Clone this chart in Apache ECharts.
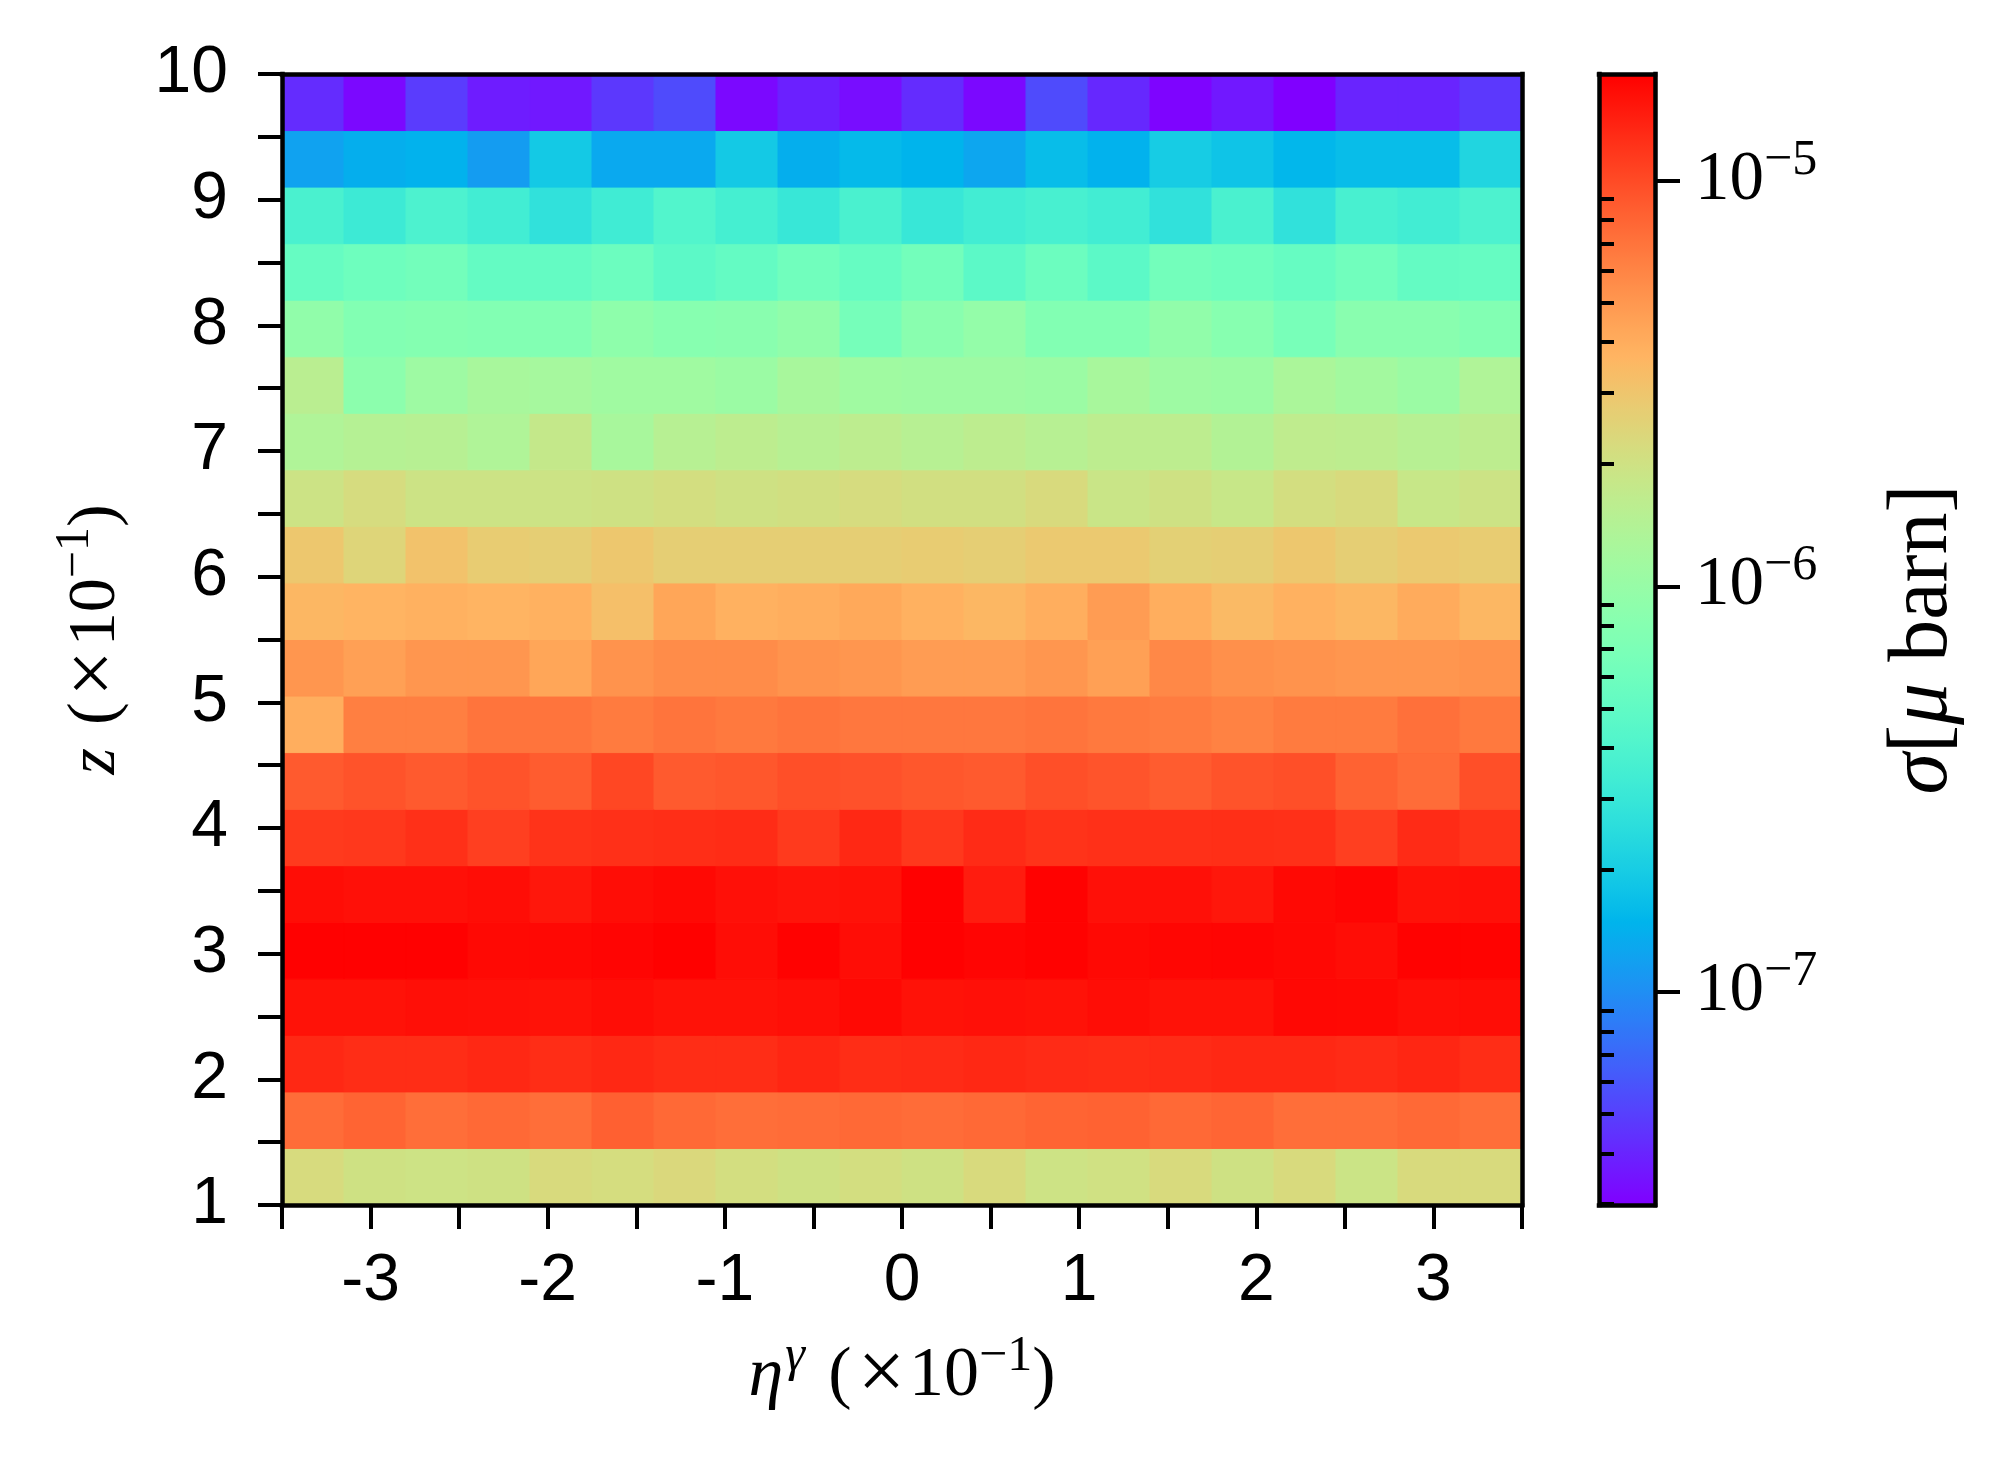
<!DOCTYPE html>
<html>
<head>
<meta charset="utf-8">
<script src="https://cdn.jsdelivr.net/npm/echarts@6/dist/echarts.min.js"></script>
<style>
html,body{margin:0;padding:0;background:#fff;}
#chart{width:2005px;height:1468px;}
</style>
</head>
<body>
<div id="chart"></div>
<script>
// ---- bins ----
const etaEdges = [-3.5,-3.15,-2.8,-2.45,-2.1,-1.75,-1.4,-1.05,-0.7,-0.35,0,0.35,0.7,1.05,1.4,1.75,2.1,2.45,2.8,3.15,3.5];
const zEdges = [1,1.45,1.9,2.35,2.8,3.25,3.7,4.15,4.6,5.05,5.5,5.95,6.4,6.85,7.3,7.75,8.2,8.65,9.1,9.55,10];

// ---- sigma values, in units of 1e-6 micro-barn, one array per z bin (left to right in eta) ----
const sigma_z100 = [2.23,2.00,1.96,2.00,2.27,2.17,2.32,2.13,2.00,2.13,2.00,2.27,1.96,2.03,2.27,2.00,2.27,1.91,2.27,2.27];
const sigma_z145 = [7.46,8.06,7.36,7.71,7.36,8.38,7.71,7.36,7.46,7.71,7.46,7.71,8.06,8.22,7.71,7.96,7.36,7.36,7.71,7.36];
const sigma_z190 = [13.3,12.8,12.8,13.3,12.8,13.3,12.8,12.8,13.5,12.8,13.0,13.3,13.0,12.8,13.0,13.3,13.3,13.0,13.5,12.8];
const sigma_z235 = [15.9,15.9,16.3,16.1,15.9,16.6,15.9,15.9,16.3,17.0,15.9,16.1,15.9,16.6,15.9,15.9,17.2,17.0,16.3,16.6];
const sigma_z280 = [18.1,18.1,18.1,17.0,17.2,17.5,18.2,16.6,18.0,16.6,18.1,17.5,18.0,17.0,17.4,17.5,17.2,16.6,18.0,17.9];
const sigma_z325 = [16.6,16.1,16.1,16.6,15.3,16.6,17.0,16.1,15.6,15.9,18.1,14.6,18.0,16.1,16.1,15.3,17.0,17.5,15.9,16.1];
const sigma_z370 = [11.5,11.7,12.5,11.0,12.2,12.5,12.7,12.9,11.5,13.3,11.7,13.0,12.2,12.5,12.5,12.6,12.5,11.0,13.0,12.1];
const sigma_z415 = [8.75,9.33,8.75,9.33,8.65,10.3,8.75,9.04,9.64,9.46,9.04,8.75,9.64,9.22,8.65,9.33,9.64,8.22,7.46,9.64];
const sigma_z460 = [3.93,6.35,6.35,7.00,7.00,6.56,7.00,6.69,7.00,6.77,6.77,6.77,7.00,6.69,6.48,6.15,6.56,6.56,7.23,6.69];
const sigma_z505 = [5.07,4.61,5.07,5.07,4.33,5.24,5.59,5.59,5.24,5.07,4.76,4.76,5.07,4.61,5.77,5.41,5.24,5.07,5.07,5.24];
const sigma_z550 = [3.56,3.68,3.80,3.68,3.80,3.24,4.33,3.80,3.93,4.19,3.80,3.56,3.93,4.76,3.93,3.45,3.80,3.56,4.06,3.56];
const sigma_z595 = [2.94,2.43,3.13,2.76,2.67,2.94,2.67,2.67,2.67,2.67,2.76,2.67,2.85,2.85,2.59,2.67,2.94,2.67,2.85,2.76];
const sigma_z640 = [1.94,2.20,1.94,1.94,1.94,2.00,2.13,2.00,2.07,2.20,2.07,2.07,2.27,1.88,2.00,1.82,2.13,2.27,1.82,1.94];
const sigma_z685 = [1.36,1.45,1.50,1.36,1.76,1.24,1.50,1.60,1.50,1.60,1.50,1.60,1.50,1.60,1.60,1.41,1.65,1.60,1.50,1.60];
const sigma_z730 = [1.55,0.869,1.09,1.24,1.20,1.12,1.12,1.05,1.24,1.12,1.09,1.09,1.05,1.24,1.09,1.05,1.28,1.16,1.05,1.36];
const sigma_z775 = [0.927,0.764,0.789,0.764,0.764,0.897,0.815,0.841,0.927,0.650,0.841,0.957,0.764,0.764,0.927,0.815,0.671,0.841,0.841,0.764];
const sigma_z820 = [0.537,0.591,0.630,0.520,0.520,0.573,0.472,0.520,0.610,0.537,0.630,0.472,0.573,0.472,0.630,0.591,0.537,0.610,0.520,0.537];
const sigma_z865 = [0.377,0.321,0.389,0.342,0.273,0.331,0.415,0.353,0.301,0.377,0.301,0.342,0.365,0.342,0.273,0.377,0.273,0.365,0.342,0.389];
const sigma_z910 = [0.122,0.139,0.144,0.115,0.192,0.131,0.131,0.192,0.139,0.158,0.149,0.126,0.164,0.144,0.198,0.180,0.153,0.164,0.164,0.225];
const sigma_z955 = [0.0425,0.0318,0.0483,0.0374,0.0362,0.0468,0.0549,0.0318,0.0386,0.0329,0.0425,0.0318,0.0549,0.0411,0.0308,0.0362,0.0299,0.0399,0.0399,0.0468];

// ---- tick labels ----
const etaTickLabels = [-3,-2,-1,0,1,2,3];
const zTickLabels = [1,2,3,4,5,6,7,8,9,10];
const cbarMajorTicks = [1e-7,1e-6,1e-5];
const cbarMinorTicks = [3e-8,4e-8,5e-8,6e-8,7e-8,8e-8,9e-8,
  2e-7,3e-7,4e-7,5e-7,6e-7,7e-7,8e-7,9e-7,
  2e-6,3e-6,4e-6,5e-6,6e-6,7e-6,8e-6,9e-6];
const cbarMin = 2.985e-8, cbarMax = 1.832e-5;

// ---- build ----
const rows = [sigma_z100,sigma_z145,sigma_z190,sigma_z235,sigma_z280,sigma_z325,sigma_z370,sigma_z415,sigma_z460,sigma_z505,
  sigma_z550,sigma_z595,sigma_z640,sigma_z685,sigma_z730,sigma_z775,sigma_z820,sigma_z865,sigma_z910,sigma_z955];
const cells = [];
rows.forEach((row, j) => row.forEach((s, i) => {
  cells.push([etaEdges[i], etaEdges[i+1], zEdges[j], zEdges[j+1], Math.log10(s * 1e-6), s]);
}));
const logMin = Math.log10(cbarMin), logMax = Math.log10(cbarMax);

// matplotlib 'rainbow' colormap
function rainbow(t) {
  const r = Math.min(1, Math.abs(2 * t - 0.5));
  const g = Math.sin(Math.PI * t);
  const b = Math.cos(Math.PI * t / 2);
  const h = v => Math.round(Math.max(0, Math.min(1, v)) * 255);
  return 'rgb(' + h(r) + ',' + h(g) + ',' + h(b) + ')';
}
const NSTOP = 128;
const cmapColors = [], cmapStops = [];
for (let k = 0; k <= NSTOP; k++) {
  const c = rainbow(k / NSTOP);
  cmapColors.push(c);
  cmapStops.push({offset: k / NSTOP, color: c});
}

const SANS = "'Liberation Sans', 'DejaVu Sans', sans-serif";
const SERIF = "'Liberation Serif', 'DejaVu Serif', serif";
const BLACK = '#000';

function lineOnly(extra) {
  return Object.assign({
    type: 'value', z: 10,
    axisLine: {show: true, onZero: false, lineStyle: {color: BLACK, width: 4.5, cap: 'square'}},
    axisTick: {show: false}, axisLabel: {show: false}, splitLine: {show: false}
  }, extra);
}

const chart = echarts.init(document.getElementById('chart'), null, {renderer: 'canvas'});
const option = {
  backgroundColor: '#fff',
  animation: false,
  grid: [
    {left: 282, top: 74, width: 1240, height: 1131, outerBoundsMode: 'none', containLabel: false},
    {left: 1599, top: 74, width: 56, height: 1131, outerBoundsMode: 'none', containLabel: false}
  ],
  xAxis: [
    {
      gridIndex: 0, type: 'value', min: -3.5, max: 3.5, interval: 0.5, position: 'bottom', z: 10,
      axisLine: {show: true, onZero: false, lineStyle: {color: BLACK, width: 4.5, cap: 'square'}},
      axisTick: {show: true, inside: false, length: 24, lineStyle: {color: BLACK, width: 4}},
      axisLabel: {
        margin: 44, fontSize: 66, fontFamily: SANS, color: BLACK,
        formatter: v => etaTickLabels.indexOf(v) >= 0 ? String(v) : ''
      },
      splitLine: {show: false},
      name: '{i|η}{si|γ}{n| (}{x|×}{n|10}{s|−1}{n|)}',
      nameLocation: 'middle', nameGap: 127, nameMoveOverlap: false,
      nameTextStyle: {
        rich: {
          n: {fontFamily: SERIF, fontSize: 70, lineHeight: 90, color: BLACK},
          x: {fontFamily: SERIF, fontSize: 84, lineHeight: 90, color: BLACK, padding: [0, 4, 0, 6]},
          i: {fontFamily: SERIF, fontSize: 70, lineHeight: 90, fontStyle: 'italic', color: BLACK},
          si: {fontFamily: SERIF, fontSize: 50, lineHeight: 54, fontStyle: 'italic', verticalAlign: 'top', color: BLACK, padding: [0, 6, 0, 2]},
          s: {fontFamily: SERIF, fontSize: 50, lineHeight: 54, verticalAlign: 'top', color: BLACK}
        }
      }
    },
    lineOnly({gridIndex: 0, min: -3.5, max: 3.5, position: 'top'}),
    lineOnly({gridIndex: 1, min: 0, max: 1, position: 'bottom'}),
    lineOnly({gridIndex: 1, min: 0, max: 1, position: 'top'})
  ],
  yAxis: [
    {
      gridIndex: 0, type: 'value', min: 1, max: 10, interval: 0.5, position: 'left', z: 10,
      axisLine: {show: true, onZero: false, lineStyle: {color: BLACK, width: 4.5, cap: 'square'}},
      axisTick: {show: true, inside: false, length: 24, lineStyle: {color: BLACK, width: 4}},
      axisLabel: {
        margin: 54, fontSize: 66, fontFamily: SANS, color: BLACK,
        formatter: v => zTickLabels.indexOf(v) >= 0 ? String(v) : ''
      },
      splitLine: {show: false},
      name: '{i|z}{n| (}{x|×}{n|10}{s|−1}{n|)}',
      nameLocation: 'middle', nameGap: 141, nameRotate: 90, nameMoveOverlap: false,
      nameTextStyle: {
        rich: {
          n: {fontFamily: SERIF, fontSize: 68, lineHeight: 90, color: BLACK},
          x: {fontFamily: SERIF, fontSize: 82, lineHeight: 90, color: BLACK, padding: [0, 4, 0, 6]},
          i: {fontFamily: SERIF, fontSize: 68, lineHeight: 90, fontStyle: 'italic', color: BLACK, padding: [0, 6, 0, 0]},
          s: {fontFamily: SERIF, fontSize: 48, lineHeight: 55, verticalAlign: 'top', color: BLACK}
        }
      }
    },
    lineOnly({gridIndex: 0, min: 1, max: 10, position: 'right'}),
    {
      gridIndex: 1, type: 'value', min: logMin, max: logMax, position: 'right', z: 10,
      axisLine: {show: true, onZero: false, lineStyle: {color: BLACK, width: 4.5, cap: 'square'}},
      axisTick: {show: true, inside: false, length: 25, lineStyle: {color: BLACK, width: 4},
        customValues: cbarMajorTicks.map(Math.log10)},
      axisLabel: {
        margin: 40, color: BLACK,
        customValues: cbarMajorTicks.map(Math.log10),
        formatter: v => '{a|10}{s|−' + Math.round(-v) + '}',
        rich: {
          a: {fontFamily: SERIF, fontSize: 69, lineHeight: 90, color: BLACK},
          s: {fontFamily: SERIF, fontSize: 50, lineHeight: 54, verticalAlign: 'top', color: BLACK}
        }
      },
      splitLine: {show: false},
      name: '{i|σ}{n|[}{i|μ}{n| barn]}',
      nameLocation: 'middle', nameGap: 219, nameRotate: 90, nameMoveOverlap: false,
      nameTextStyle: {
        rich: {
          n: {fontFamily: SERIF, fontSize: 84, lineHeight: 100, color: BLACK},
          i: {fontFamily: SERIF, fontSize: 84, lineHeight: 100, fontStyle: 'italic', color: BLACK}
        }
      }
    },
    {
      gridIndex: 1, type: 'value', min: logMin, max: logMax, position: 'right', z: 10,
      axisLine: {show: false},
      axisTick: {show: true, inside: false, length: 15, lineStyle: {color: BLACK, width: 4},
        customValues: cbarMinorTicks.map(Math.log10)},
      axisLabel: {show: false},
      splitLine: {show: false}
    },
    lineOnly({gridIndex: 1, min: logMin, max: logMax, position: 'left'})
  ],
  visualMap: {
    type: 'continuous', show: false, seriesIndex: 0, dimension: 4,
    min: logMin, max: logMax,
    inRange: {color: cmapColors}
  },
  series: [
    {
      type: 'custom', coordinateSystem: 'cartesian2d', xAxisIndex: 0, yAxisIndex: 0,
      silent: true, clip: true,
      encode: {x: [0, 1], y: [2, 3]},
      data: cells,
      renderItem: function (params, api) {
        const p0 = api.coord([api.value(0), api.value(3)]);
        const p1 = api.coord([api.value(1), api.value(2)]);
        const color = api.visual('color');
        return {
          type: 'rect',
          shape: {x: p0[0], y: p0[1], width: p1[0] - p0[0], height: p1[1] - p0[1]},
          style: {fill: color, stroke: color, lineWidth: 1}
        };
      }
    },
    {
      type: 'custom', coordinateSystem: 'cartesian2d', xAxisIndex: 2, yAxisIndex: 2,
      silent: true,
      encode: {x: [0, 1], y: [2, 3]},
      data: [[0, 1, logMin, logMax]],
      renderItem: function (params, api) {
        const p0 = api.coord([api.value(0), api.value(3)]);
        const p1 = api.coord([api.value(1), api.value(2)]);
        return {
          type: 'rect',
          shape: {x: p0[0], y: p0[1], width: p1[0] - p0[0], height: p1[1] - p0[1]},
          style: {fill: new echarts.graphic.LinearGradient(0, 1, 0, 0, cmapStops)}
        };
      }
    }
  ]
};
chart.setOption(option);
</script>
</body>
</html>
